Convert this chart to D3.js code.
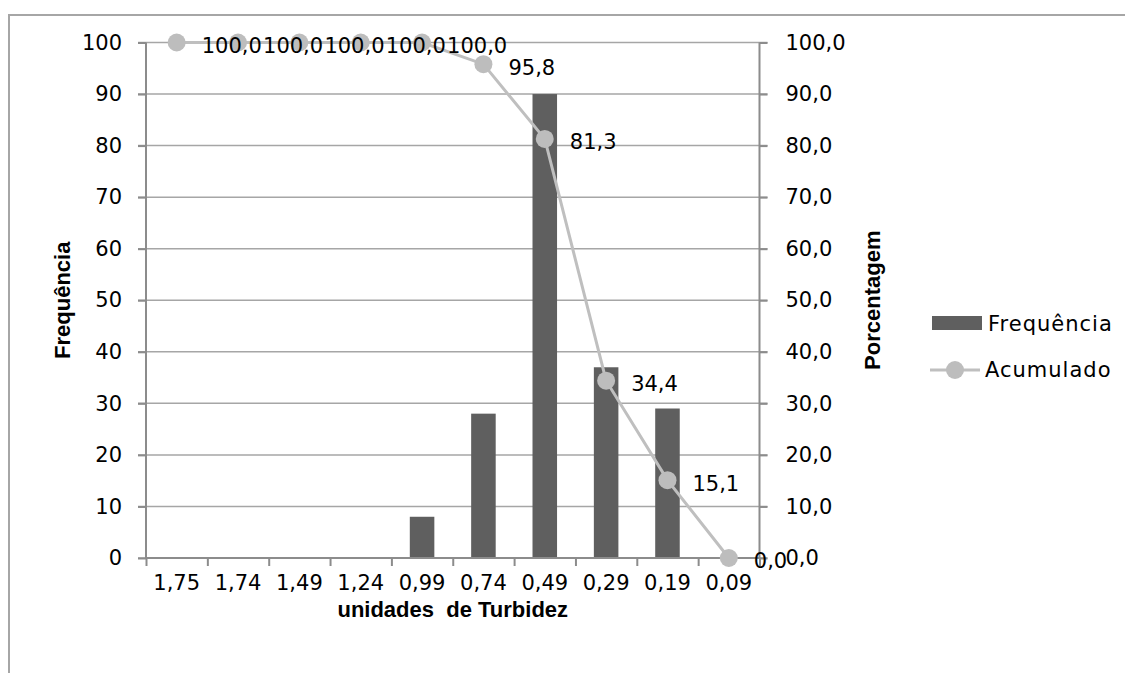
<!DOCTYPE html>
<html>
<head>
<meta charset="utf-8">
<script src="https://cdn.jsdelivr.net/npm/d3@7"></script>
<style>
  body { margin: 0; background: #fff; }
  svg { display: block; }
  .tick text { font-family: "DejaVu Sans", sans-serif; font-size: 21px; fill: #000; }
  .axis-title { font-family: "Liberation Sans", Arial, sans-serif; font-weight: bold; font-size: 22px; }
</style>
</head>
<body>
<div id="root"></div>
<script>
// turbidity classes (x axis), frequency bars and cumulative percentage line
const categories = ["1,75", "1,74", "1,49", "1,24", "0,99", "0,74", "0,49", "0,29", "0,19", "0,09"];
const frequencia = [0, 0, 0, 0, 8, 28, 90, 37, 29, 0];
const acumulado = [100.0, 100.0, 100.0, 100.0, 100.0, 95.8, 81.3, 34.4, 15.1, 0.0];
const leftTicks = [0, 10, 20, 30, 40, 50, 60, 70, 80, 90, 100];
const rightTicks = [0, 10, 20, 30, 40, 50, 60, 70, 80, 90, 100];

const W = 1125,
  H = 673,
  plotLeft = 146,
  plotRight = 759.5,
  plotTop = 42.5,
  plotBottom = 558;

const fmt = (d) => d.toFixed(1).replace(".", ",");

const svg = d3
  .select("#root")
  .append("svg")
  .attr("width", W)
  .attr("height", H);

// outer frame (only top and left are visible in the crop)
svg
  .append("path")
  .attr("d", `M9,${H} V15 H${W}`)
  .attr("fill", "none")
  .attr("stroke", "#a6a6a6")
  .attr("stroke-width", 2);

const x = d3.scaleBand().domain(categories).range([plotLeft, plotRight]);
const xEdges = d3.scaleLinear().domain([0, categories.length]).range([plotLeft, plotRight]);
const yL = d3.scaleLinear().domain([0, 100]).range([plotBottom, plotTop]);
const yR = d3.scaleLinear().domain([0, 100]).range([plotBottom, plotTop]);

// gridlines
svg
  .append("g")
  .selectAll("line")
  .data(leftTicks)
  .enter()
  .append("line")
  .attr("x1", plotLeft - 8)
  .attr("x2", plotRight + 8)
  .attr("y1", (d) => yL(d))
  .attr("y2", (d) => yL(d))
  .attr("stroke", "#a6a6a6")
  .attr("stroke-width", 1.5);

// bars
const barW = x.bandwidth() / 2.5;
svg
  .append("g")
  .selectAll("rect")
  .data(frequencia)
  .enter()
  .append("rect")
  .attr("x", (d, i) => x(categories[i]) + (x.bandwidth() - barW) / 2)
  .attr("y", (d) => yL(d))
  .attr("width", barW)
  .attr("height", (d) => yL(0) - yL(d))
  .attr("fill", "#5f5f5f");

// axes
const yAxisL = d3.axisLeft(yL).tickValues(leftTicks).tickSize(8).tickPadding(16).tickFormat((d) => d);
const gL = svg.append("g").attr("transform", `translate(${plotLeft},0)`).call(yAxisL);

const yAxisR = d3.axisRight(yR).tickValues(rightTicks).tickSize(8).tickPadding(18).tickFormat(fmt);
const gR = svg.append("g").attr("transform", `translate(${plotRight},0)`).call(yAxisR);

const xTicks = d3.axisBottom(xEdges).tickValues(d3.range(0, categories.length + 1)).tickSize(8).tickFormat("");
const gX = svg.append("g").attr("transform", `translate(0,${plotBottom})`).call(xTicks);

const xLabels = d3.axisBottom(x).tickSize(0).tickPadding(17);
const gXL = svg.append("g").attr("transform", `translate(0,${plotBottom})`).call(xLabels);
gXL.select(".domain").remove();

[gL, gR, gX].forEach((g) => {
  g.select(".domain").attr("stroke", "#8c8c8c").attr("stroke-width", 2);
  g.selectAll(".tick line").attr("stroke", "#8c8c8c").attr("stroke-width", 2);
});
gX.select(".domain").attr("d", `M${plotLeft},0H${plotRight}`);
gL.select(".domain").attr("d", `M0,${plotBottom}V${plotTop}`);
gR.select(".domain").attr("d", `M0,${plotBottom}V${plotTop}`);

// cumulative line
const px = (i) => x(categories[i]) + x.bandwidth() / 2;
const line = d3
  .line()
  .x((d, i) => px(i))
  .y((d) => yR(d));

svg
  .append("path")
  .datum(acumulado)
  .attr("d", line)
  .attr("fill", "none")
  .attr("stroke", "#bfbfbf")
  .attr("stroke-width", 3);

svg
  .append("g")
  .selectAll("circle")
  .data(acumulado)
  .enter()
  .append("circle")
  .attr("cx", (d, i) => px(i))
  .attr("cy", (d) => yR(d))
  .attr("r", 9)
  .attr("fill", "#bdbdbd");

svg
  .append("g")
  .selectAll("text")
  .data(acumulado)
  .enter()
  .append("text")
  .attr("x", (d, i) => px(i) + 25)
  .attr("y", (d) => yR(d) + 3)
  .attr("dy", "0.35em")
  .attr("font-family", "DejaVu Sans, sans-serif")
  .attr("font-size", 21)
  .text((d) => fmt(d));

// axis titles
svg
  .append("text")
  .attr("class", "axis-title")
  .attr("transform", `translate(62,${(plotTop + plotBottom) / 2}) rotate(-90)`)
  .attr("text-anchor", "middle")
  .attr("dy", "0.35em")
  .text("Frequência");

svg
  .append("text")
  .attr("class", "axis-title")
  .attr("transform", `translate(872,${(plotTop + plotBottom) / 2}) rotate(-90)`)
  .attr("text-anchor", "middle")
  .attr("dy", "0.35em")
  .text("Porcentagem");

svg
  .append("text")
  .attr("class", "axis-title")
  .attr("x", (plotLeft + plotRight) / 2)
  .attr("y", 609)
  .attr("text-anchor", "middle")
  .attr("dy", "0.35em")
  .style("white-space", "pre")
  .text("unidades  de Turbidez");

// legend
const legend = svg.append("g").attr("font-family", "DejaVu Sans, sans-serif").attr("font-size", 21);
legend.append("rect").attr("x", 932).attr("y", 316).attr("width", 50).attr("height", 14).attr("fill", "#5f5f5f");
legend.append("text").attr("x", 988).attr("y", 324).attr("dy", "0.35em").attr("letter-spacing", 1).text("Frequência");
legend.append("line").attr("x1", 930).attr("x2", 980).attr("y1", 370).attr("y2", 370).attr("stroke", "#bfbfbf").attr("stroke-width", 3);
legend.append("circle").attr("cx", 955).attr("cy", 370).attr("r", 9).attr("fill", "#bdbdbd");
legend.append("text").attr("x", 985).attr("y", 370).attr("dy", "0.35em").attr("letter-spacing", 1).text("Acumulado");
</script>
</body>
</html>
